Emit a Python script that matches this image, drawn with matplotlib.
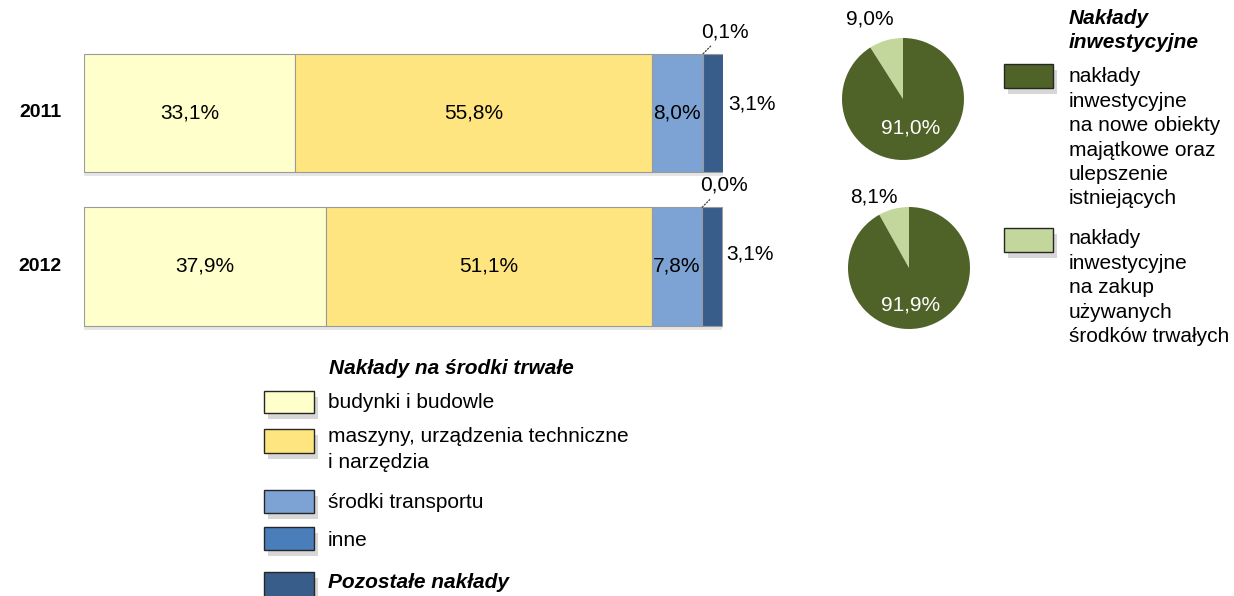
import matplotlib
matplotlib.use("Agg")
import matplotlib.pyplot as plt
import matplotlib.patheffects as pe
from matplotlib.patches import Rectangle
import numpy as np

plt.rcParams['font.family'] = ['Liberation Sans', 'DejaVu Sans']

# ---------------- data ----------------
years = ["2011", "2012"]
categories = ["budynki i budowle", "maszyny, urządzenia techniczne\ni narzędzia",
              "środki transportu", "inne", "Pozostałe nakłady"]
budynki = [33.1, 37.9]
maszyny = [55.8, 51.1]
transport = [8.0, 7.8]
inne = [0.1, 0.0]
pozostale = [3.1, 3.1]
bar_colors = ["#FFFFCC", "#FFE57F", "#7CA3D4", "#4A7EBB", "#385D8A"]

pie_labels = ["nakłady\ninwestycyjne\nna nowe obiekty\nmajątkowe oraz\nulepszenie\nistniejących",
              "nakłady\ninwestycyjne\nna zakup\nużywanych\nśrodków trwałych"]
pie_2011 = [9.0, 91.0]   # [used assets, new objects]
pie_2012 = [8.1, 91.9]
pie_colors = ["#C3D69B", "#4F6228"]

def fmt(v):
    return f"{v:.1f}".replace(".", ",") + "%"

W, H = 1234, 596
fig = plt.figure(figsize=(W / 100, H / 100), dpi=100)

def rect(l, t, r, b):
    return [l / W, 1 - b / H, (r - l) / W, (b - t) / H]

FS = 15
shadow = [pe.SimplePatchShadow(offset=(0, -3), shadow_rgbFace="#909090", alpha=0.22), pe.Normal()]

# ---------------- stacked bars ----------------
axb = fig.add_axes(rect(84, 40, 723, 340))
series = [budynki, maszyny, transport, inne, pozostale]
ypos = np.arange(len(years))
bh = 0.77
left = np.zeros(len(years))
for vals, col in zip(series, bar_colors):
    bars = axb.barh(ypos, vals, left=left, height=bh, color=col,
                    edgecolor="#9A9A9A", linewidth=0.8)
    for b in bars:
        b.set_path_effects(shadow)
    left = left + np.array(vals)

axb.set_xlim(0, 100.1)
axb.set_ylim(1 + 73.5 / 153.5, -73 / 153.5)
axb.axis("off")

# inside labels for first three segments
cum = np.zeros(len(years))
for vals in [budynki, maszyny, transport]:
    for i, v in enumerate(vals):
        axb.text(cum[i] + v / 2, ypos[i], fmt(v), ha="center", va="center",
                 fontsize=FS, color="#000000")
    cum = cum + np.array(vals)

# "inne" labels with dotted leader, "pozostałe" labels to the right
for i in range(len(years)):
    x_inne = cum[i] + inne[i] / 2
    axb.annotate(fmt(inne[i]), xy=(x_inne, ypos[i] - bh / 2),
                 xytext=(22, 22), textcoords="offset pixels",
                 ha="center", va="center", fontsize=FS,
                 arrowprops=dict(arrowstyle="-", linestyle=(0, (1, 1.5)),
                                 color="#404040", lw=0.9, shrinkA=2, shrinkB=0))
    end = cum[i] + inne[i] + pozostale[i]
    axb.annotate(fmt(pozostale[i]), xy=(end, ypos[i]),
                 xytext=(5, 9 if i == 0 else 12), textcoords="offset pixels",
                 ha="left", va="center", fontsize=FS)

# year labels
for i, y in enumerate(years):
    axb.annotate(y, xy=(0, ypos[i]), xytext=(-22, 0), textcoords="offset pixels",
                 ha="right", va="center", fontsize=FS - 1, fontweight="bold")

# ---------------- pies ----------------
pie_specs = [(pie_2011, (903, 99, 61), (-0.54, 1.31), (0.12, -0.48)),
             (pie_2012, (909, 268, 61), (-0.58, 1.17), (0.03, -0.6))]
for vals, (cx, cy, r), pos_small, pos_big in pie_specs:
    axp = fig.add_axes(rect(cx - r, cy - r, cx + r, cy + r))
    axp.pie(vals, colors=pie_colors, startangle=90, counterclock=True,
            radius=1, wedgeprops=dict(linewidth=0))
    axp.set_xlim(-1, 1)
    axp.set_ylim(-1, 1)
    axp.set_aspect("equal")
    axp.axis("off")
    axp.text(*pos_small, fmt(vals[0]), ha="center", va="center", fontsize=FS, color="#000000")
    axp.text(*pos_big, fmt(vals[1]), ha="center", va="center", fontsize=FS, color="#FFFFFF")

# ---------------- overlay for legends ----------------
ov = fig.add_axes([0, 0, 1, 1], zorder=9)
ov.set_xlim(0, W)
ov.set_ylim(H, 0)
ov.axis("off")
ov.patch.set_alpha(0)

sw_shadow = [pe.SimplePatchShadow(offset=(3, -4), shadow_rgbFace="#8F8F8F", alpha=0.35), pe.Normal()]

def swatch(l, t, r, b, col):
    p = Rectangle((l, t), r - l, b - t, facecolor=col, edgecolor="#262626", linewidth=1.0)
    p.set_path_effects(sw_shadow)
    ov.add_patch(p)

# bottom legend
ov.text(329, 369, "Nakłady na środki trwałe", ha="left", va="center", fontsize=FS,
        fontweight="bold", fontstyle="italic")
sw_boxes = [(391, 413), (429, 453), (490, 513), (527, 550), (572, 598)]
text_rows = [[403], [437, 463], [503], [540], [583]]
for k, (cat, col) in enumerate(zip(categories, bar_colors)):
    t, b = sw_boxes[k]
    swatch(264, t, 314, b, col)
    lines = cat.split("\n")
    for line, yy in zip(lines, text_rows[k]):
        if k == 4:
            ov.text(328, yy, line, ha="left", va="center", fontsize=FS,
                    fontweight="bold", fontstyle="italic")
        else:
            ov.text(328, yy, line, ha="left", va="center", fontsize=FS)

# right legend
ov.text(1069, 19, "Nakłady", ha="left", va="center", fontsize=FS, fontweight="bold", fontstyle="italic")
ov.text(1069, 43, "inwestycyjne", ha="left", va="center", fontsize=FS, fontweight="bold", fontstyle="italic")
leg_items = [(pie_labels[0], pie_colors[1], (64, 88), 77),
             (pie_labels[1], pie_colors[0], (228, 252), 239)]
for lab, col, (t, b), y0 in leg_items:
    swatch(1004, t, 1053, b, col)
    for j, line in enumerate(lab.split("\n")):
        ov.text(1069, y0 + j * 24.4, line, ha="left", va="center", fontsize=FS)

fig.savefig("out.png", dpi=100)
